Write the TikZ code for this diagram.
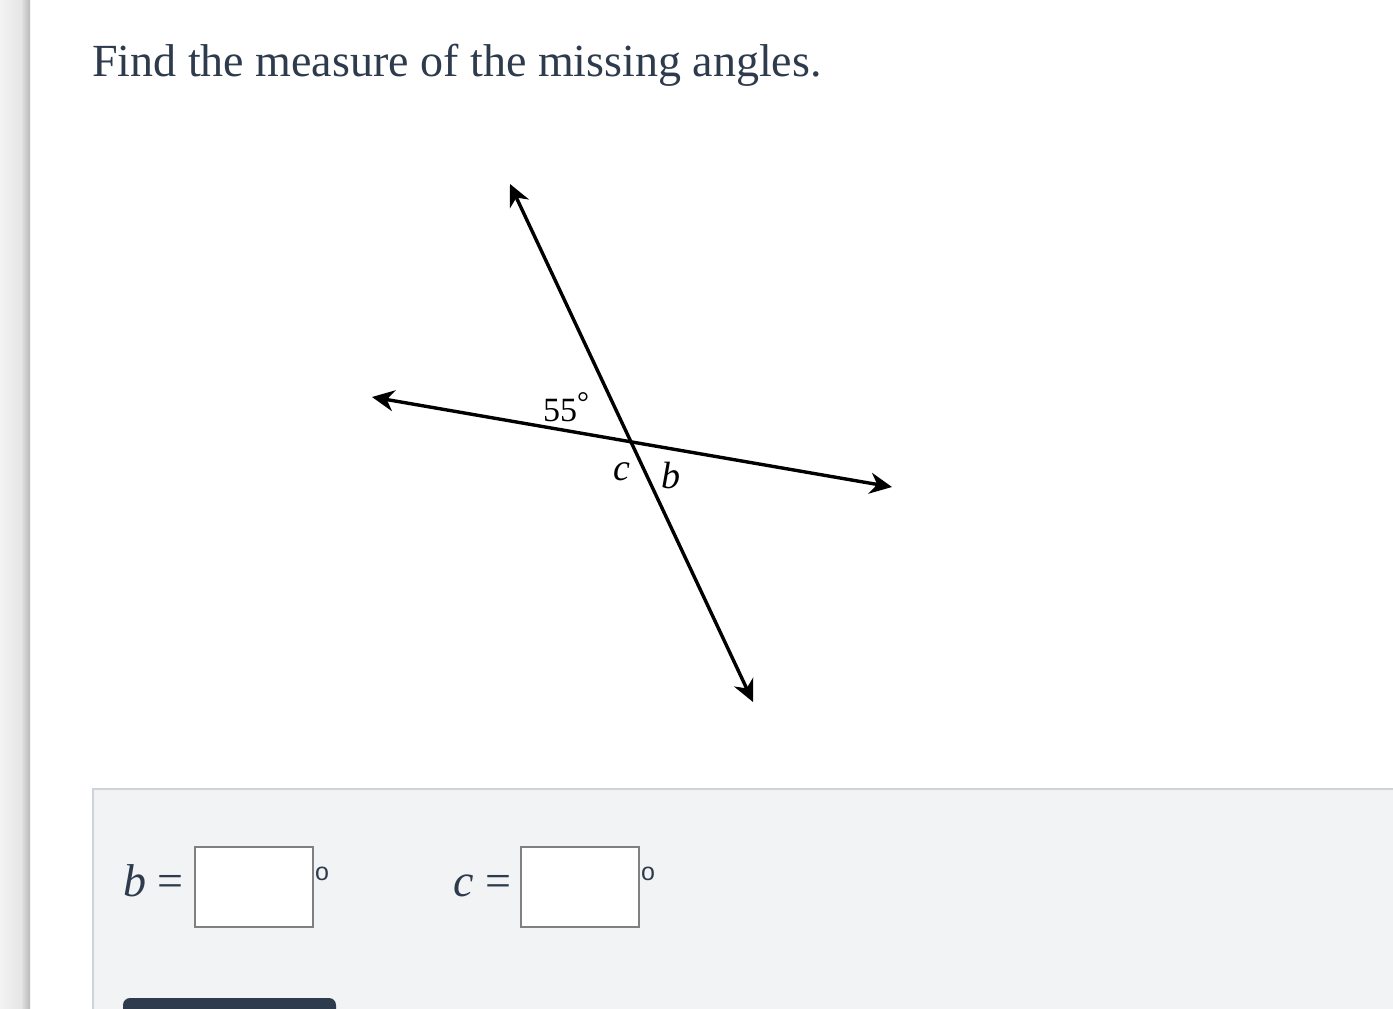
\documentclass[tikz,border=0pt]{standalone}
\usepackage{fontspec}
\setmainfont{Liberation Serif}
\newfontfamily\degfont{Liberation Sans}
\usetikzlibrary{arrows.meta}
\definecolor{ink}{HTML}{2D3B4D}
\definecolor{panel}{HTML}{F2F3F5}
\definecolor{panelborder}{HTML}{CFD2D6}
\definecolor{boxborder}{HTML}{808080}
\tikzset{
  txt/.style={inner sep=0pt, anchor=base west},
  ray/.style={line width=3.4pt, black, {Stealth[length=22pt,width=21pt,inset=7pt]}-{Stealth[length=22pt,width=21pt,inset=7pt]}},
  inbox/.style={draw=boxborder, line width=2pt, fill=white, minimum width=118pt, minimum height=80pt, inner sep=0pt},
  degsign/.style={txt, font=\degfont\fontsize{25}{25}\selectfont, text=ink},
  anslabel/.style={txt, font=\fontsize{46}{46}\selectfont, text=ink}
}
\begin{document}
\begin{tikzpicture}[x=1pt,y=-1pt]
\useasboundingbox (0,0) rectangle (1393,1009);
\clip (0,0) rectangle (1393,1009);
\fill[white] (0,0) rectangle (1393,1009);
% left shadow
\shade[left color=gray!10, right color=gray!20] (0,0) rectangle (22,1009);
\shade[left color=gray!25, right color=gray!55] (22,0) rectangle (30,1009);
% title
\node[txt, font=\fontsize{46}{46}\selectfont, text=ink] (title) at (92,76) {Find the measure of the missing angles.};
% geometry
\coordinate (A) at (510,184);
\coordinate (B) at (753,702);
\coordinate (L) at (372,397);
\coordinate (R) at (892,487);
\draw[ray] (A) -- (B);
\draw[ray] (L) -- (R);
\node[txt, font=\fontsize{34}{34}\selectfont] (ang) at (543,421) {55\raisebox{9pt}{\fontsize{30}{30}\selectfont °}};
\node[txt, font=\fontsize{38}{38}\selectfont\itshape] (lc) at (613,480) {c};
\node[txt, font=\fontsize{38}{38}\selectfont\itshape] (lb) at (661,488) {b};
% answer panel
\fill[panel] (92,788) rectangle (1400,1020);
\draw[panelborder, line width=2pt] (93,1020) -- (93,789) -- (1400,789);
\node[anslabel] (bl) at (123,896) {\textit{b} =};
\node[inbox] (box1) at (254,887) {};
\node[degsign] (d1) at (315,880) {o};
\node[anslabel] (cl) at (453,896) {\textit{c} =};
\node[inbox] (box2) at (580,887) {};
\node[degsign] (d2) at (641,880) {o};
% button
\fill[ink, rounded corners=7pt] (123,1030) rectangle (336,998);
\end{tikzpicture}
\end{document}
